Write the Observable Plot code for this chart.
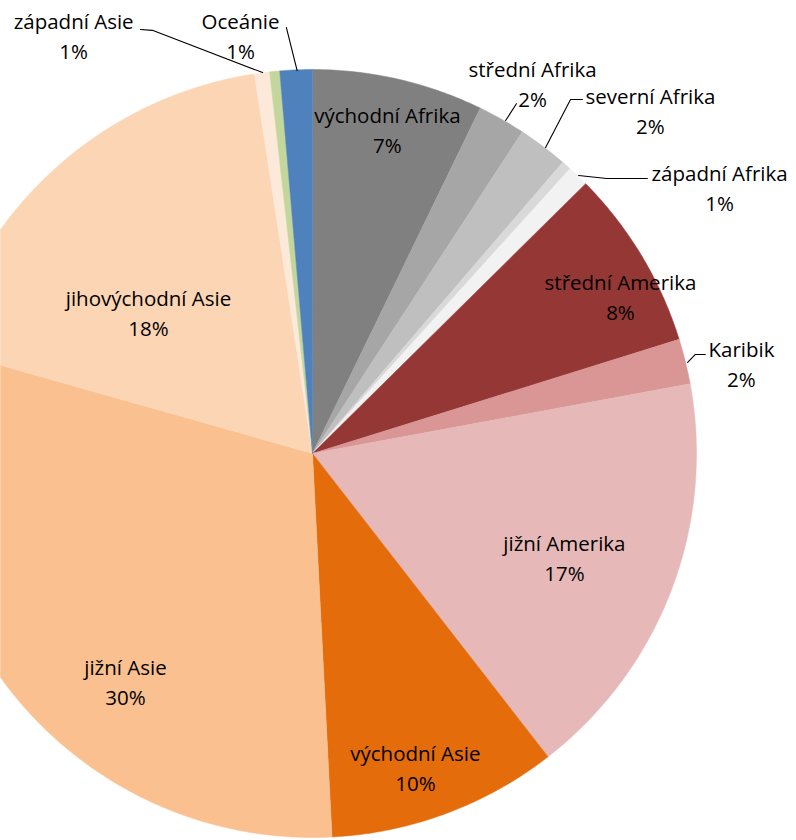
<!DOCTYPE html>
<html><head><meta charset="utf-8">
<script src="https://cdn.jsdelivr.net/npm/d3@7"></script>
<script src="https://cdn.jsdelivr.net/npm/@observablehq/plot@0.6"></script>
<style>
body{margin:0;background:#fff}
#chart{width:796px;height:840px;overflow:hidden}
</style>
</head><body><div id="chart"></div>
<script>
// ---- data (clockwise from 12 o'clock) ----
const regions = ["východní Afrika","střední Afrika","severní Afrika","jižní Afrika","západní Afrika",
  "střední Amerika","Karibik","jižní Amerika","východní Asie","jižní Asie","jihovýchodní Asie",
  "západní Asie","střední Asie","Oceánie"];
const shares = [7.2, 2.0, 2.1, 0.4, 0.9, 7.6, 1.9, 17.4, 9.7, 30.2, 18.2, 0.64, 0.42, 1.36];
const labelled = [true,true,true,false,true,true,true,true,true,true,true,true,false,true];
const colors = ["#808080","#a6a6a6","#bfbfbf","#d9d9d9","#f2f2f2",
  "#953735","#d99694","#e6b9b8","#e46c0a","#fac090","#fcd5b5",
  "#fde9d9","#c3d69b","#4f81bd"];

// ---- layout (unit-radius pie coordinates, y up) ----
const labelPos = {
  "východní Afrika": [0.195, 0.846],
  "střední Afrika": [0.573, 0.966],
  "severní Afrika": [0.880, 0.896],
  "západní Afrika": [1.060, 0.695],
  "střední Amerika": [0.802, 0.411],
  "Karibik": [1.117, 0.237],
  "jižní Amerika": [0.656, -0.268],
  "východní Asie": [0.268, -0.815],
  "jižní Asie": [-0.487, -0.591],
  "jihovýchodní Asie": [-0.427, 0.370],
  "západní Asie": [-0.622, 1.091],
  "Oceánie": [-0.1875, 1.091]
};
const leaders = {
  "Oceánie": [[-0.040, 0.997], [-0.068, 1.109]],
  "západní Asie": [[-0.130, 0.992], [-0.417, 1.102], [-0.448, 1.104]],
  "střední Afrika": [[0.503, 0.867], [0.531, 0.911]],
  "severní Afrika": [[0.607, 0.797], [0.672, 0.922], [0.703, 0.922]],
  "západní Afrika": [[0.693, 0.724], [0.766, 0.716], [0.872, 0.716]],
  "Karibik": [[0.977, 0.237], [0.997, 0.258], [1.023, 0.258]]
};
const view = {width: 796, height: 840, cx: 312, cy: 453, r: 384};

// ---- build slices ----
const total = d3.sum(shares);
let acc = 0;
const slices = regions.map((name, i) => {
  const a0 = acc / total * 2 * Math.PI;
  acc += shares[i];
  const a1 = acc / total * 2 * Math.PI;
  const n = Math.max(2, Math.ceil((a1 - a0) / (Math.PI / 360)));
  const ring = [[0, 0]];
  for (let k = 0; k <= n; k++) {
    const a = a0 + (a1 - a0) * k / n;
    ring.push([Math.sin(a), Math.cos(a)]);
  }
  ring.push([0, 0]);
  return {type: "Feature", properties: {name, color: colors[i]},
    geometry: {type: "Polygon", coordinates: [ring]}};
});

const labels = regions.map((name, i) => ({
  name, pct: Math.round(shares[i] / total * 100) + "%", on: labelled[i]
})).filter(d => d.on).map(d => ({
  text: d.name + "\n" + d.pct, x: labelPos[d.name][0], y: labelPos[d.name][1]
}));

const leaderPts = Object.entries(leaders).flatMap(([name, pts]) =>
  pts.map(([x, y]) => ({name, x, y})));

// visible window in unit coords
const x0 = -view.cx / view.r, x1 = (view.width - view.cx) / view.r;
const y1 = view.cy / view.r, y0 = -(view.height - view.cy) / view.r;
const domain = {type: "Polygon", coordinates: [[[x0, y0], [x1, y0], [x1, y1], [x0, y1], [x0, y0]]]};

const chart = Plot.plot({
  width: view.width,
  height: view.height,
  margin: 0,
  projection: {type: "reflect-y", domain, inset: 0},
  color: {type: "identity"},
  marks: [
    Plot.geo(slices, {fill: d => d.properties.color, stroke: d => d.properties.color, strokeWidth: 0.5}),
    Plot.line(leaderPts, {x: "x", y: "y", z: "name", stroke: "#000", strokeWidth: 1.1}),
    Plot.text(labels, {x: "x", y: "y", text: "text", fill: "#000", fontSize: 20.5,
      lineHeight: 1.45, fontFamily: "'Open Sans', 'Noto Sans', sans-serif"})
  ]
});
document.getElementById("chart").appendChild(chart);
</script>
</body></html>
